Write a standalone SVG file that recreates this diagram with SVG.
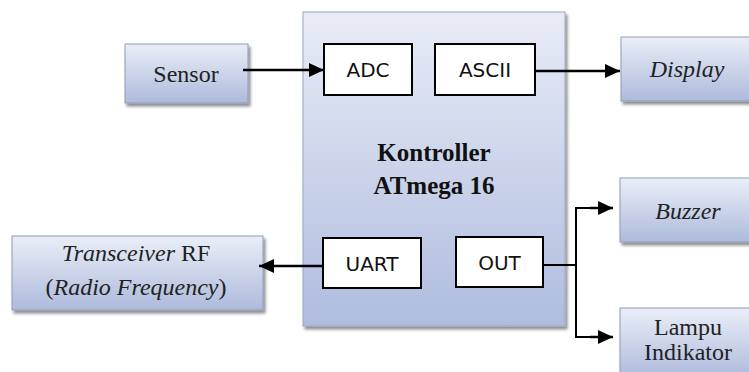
<svg xmlns="http://www.w3.org/2000/svg" width="749" height="372" viewBox="0 0 749 372">
<defs>
<linearGradient id="g" x1="0" y1="0" x2="0" y2="1">
<stop offset="0" stop-color="#eaeef8"/>
<stop offset="1" stop-color="#adbadb"/>
</linearGradient>
<linearGradient id="gm" x1="0" y1="0" x2="0" y2="1">
<stop offset="0" stop-color="#e8ecf6"/>
<stop offset="1" stop-color="#afbcdf"/>
</linearGradient>
<filter id="sh" x="-10%" y="-10%" width="130%" height="130%">
<feDropShadow dx="2" dy="3" stdDeviation="1.5" flood-color="#000" flood-opacity="0.45"/>
</filter>
<marker id="ah" markerUnits="userSpaceOnUse" markerWidth="16" markerHeight="16" refX="15" refY="8" orient="auto">
<path d="M0,1 L15,8 L0,15 z" fill="#000"/>
</marker>
</defs>
<style>
.box{fill:url(#g);stroke:#8d9bb8;stroke-width:1;filter:url(#sh)}
.main{fill:url(#gm);stroke:#9aa6c0;stroke-width:1;filter:url(#sh)}
.inner{fill:#fff;stroke:#000;stroke-width:2}
text.serif{font-family:'Liberation Serif','Times New Roman','DejaVu Serif',serif;font-size:24px;fill:#222;text-anchor:middle}
text.bold{font-weight:bold;font-size:25px;fill:#111}
.it{font-style:italic}
text.sans{font-family:'DejaVu Sans','Liberation Sans',sans-serif;font-size:20px;fill:#111;text-anchor:middle}
.conn{stroke:#000;stroke-width:2.5;fill:none}
</style>

<g id="controller">
<rect class="main" x="303" y="12" width="262" height="314"/>
<text class="serif bold" font-family="Liberation Serif, serif" x="434" y="161">Kontroller</text>
<text class="serif bold" font-family="Liberation Serif, serif" x="434" y="194">ATmega 16</text>
</g>
<g id="adc">
<rect class="inner" x="324" y="44" width="88" height="51"/>
<text class="sans" x="368" y="77">ADC</text>
</g>
<g id="ascii">
<rect class="inner" x="435" y="44" width="100" height="51"/>
<text class="sans" x="485" y="77">ASCII</text>
</g>
<g id="uart">
<rect class="inner" x="323" y="238" width="98" height="50"/>
<text class="sans" x="372" y="271">UART</text>
</g>
<g id="out">
<rect class="inner" x="456" y="237" width="87" height="50"/>
<text class="sans" x="499.5" y="270">OUT</text>
</g>
<g id="sensor">
<rect class="box" x="125" y="44" width="123" height="59"/>
<text class="serif" font-family="Liberation Serif, serif" x="186" y="82">Sensor</text>
</g>
<g id="display">
<rect class="box" x="621" y="37" width="140" height="64"/>
<text class="serif it" font-family="Liberation Serif, serif" x="687" y="77">Display</text>
</g>
<g id="buzzer">
<rect class="box" x="620" y="178" width="141" height="64"/>
<text class="serif it" font-family="Liberation Serif, serif" x="688" y="219">Buzzer</text>
</g>
<g id="lampu">
<rect class="box" x="620" y="308" width="141" height="70"/>
<text class="serif" font-family="Liberation Serif, serif" x="688" y="335">Lampu</text>
<text class="serif" font-family="Liberation Serif, serif" x="688" y="360">Indikator</text>
</g>
<g id="transceiver">
<rect class="box" x="12" y="236" width="251" height="74"/>
<text class="serif" font-family="Liberation Serif, serif" x="136" y="261"><tspan class="it">Transceiver</tspan> RF</text>
<text class="serif" font-family="Liberation Serif, serif" x="136" y="295">(<tspan class="it">Radio Frequency</tspan>)</text>
</g>

<g id="connectors">
<line class="conn" x1="243" y1="70" x2="324" y2="70" marker-end="url(#ah)"/>
<line class="conn" x1="535" y1="71" x2="620" y2="71" marker-end="url(#ah)"/>
<line class="conn" x1="323" y1="266" x2="259" y2="266" marker-end="url(#ah)"/>
<line class="conn" x1="543" y1="265" x2="576" y2="265" style="stroke-width:2"/>
<polyline class="conn" points="600,208 576,208 576,337 600,337" style="stroke-width:2"/>
<line class="conn" x1="590" y1="208" x2="613" y2="208" marker-end="url(#ah)"/>
<line class="conn" x1="590" y1="337" x2="613" y2="337" marker-end="url(#ah)"/>
</g>
</svg>
